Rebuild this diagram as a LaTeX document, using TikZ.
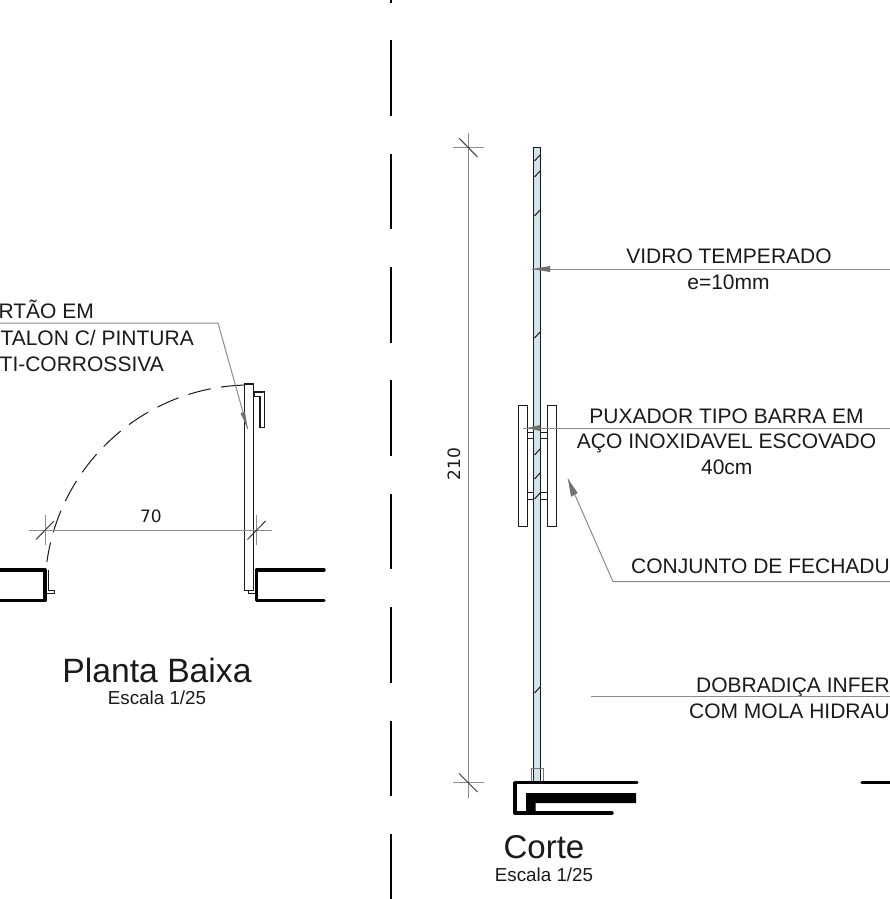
\documentclass[tikz,border=0pt]{standalone}
\usepackage{fontspec}
\setmainfont{Liberation Sans}
\newfontfamily\dimfont{DejaVu Sans}
\definecolor{glass}{HTML}{D3E3EA}
\definecolor{leader}{HTML}{8C8C8C}
\definecolor{ink}{HTML}{1A1A1A}
\tikzset{
 lbl/.style={inner sep=0pt,text=ink,font=\fontsize{21}{24}\selectfont},
 titlebig/.style={inner sep=0pt,text=ink,font=\fontsize{33}{36}\selectfont},
 titlesmall/.style={inner sep=0pt,text=ink,font=\fontsize{18.8}{22}\selectfont},
 dimtxt/.style={inner sep=0pt,text=ink,font=\dimfont\fontsize{17}{20}\selectfont},
 thinline/.style={line width=1pt,draw=ink},
 midline/.style={line width=1.4pt,draw=ink},
 wall/.style={line width=3.4pt,draw=black,line cap=round,line join=round},
 lead/.style={line width=1pt,draw=leader},
 tickmark/.style={line width=1pt,draw=ink!85},
 arrowfill/.style={fill=leader!80!black,draw=none}
}
\begin{document}
\begin{tikzpicture}[x=1pt,y=-1pt]
\useasboundingbox (0,0) rectangle (890,899);
\clip (0,0) rectangle (890,899);
\fill[white] (0,0) rectangle (890,899);
% axis
\draw[line width=1.3pt,draw=black] (391,0) -- (391,3) (391,40) -- (391,116) (391,154) -- (391,229) (391,267) -- (391,343) (391,380) -- (391,456) (391,494) -- (391,569) (391,607) -- (391,683) (391,721) -- (391,796) (391,834) -- (391,899);
% ---- plan: swing ----
\begin{scope}
\clip (0,370) rectangle (260,561);
\draw[line width=1pt,draw=ink,dash pattern=on 23pt off 10.5pt,dash phase=27.5pt] (250,385) .. controls (137,385) and (45,477) .. (45,590);
\end{scope}
% plan: walls
\draw[wall] (0,570) -- (45,570) -- (45,600.5) -- (0,600.5);
\draw[wall] (324,570) -- (256.5,570) -- (256.5,600.5) -- (324,600.5);
\draw[thinline] (48.7,570) -- (48.7,590) -- (54,590) -- (54,593) -- (47,593);
\draw[thinline] (248,591) -- (248,593) -- (255,593);
% plan: leaf
\draw[midline,fill=white] (244.5,384) rectangle (253.7,590.7);
\draw[thinline] (254,391) -- (254,396) -- (260,396);
\draw[midline] (254,392) -- (264.5,392);
\draw[line width=1.2pt,draw=ink,fill=white] (260,396) -- (260,427.7) -- (264.5,427.7) -- (264.5,392);
% plan: dimension
\coordinate (pdimL) at (29,530.3); \coordinate (pdimR) at (272,530.3);
\draw[lead] (pdimL) -- (pdimR);
\draw[lead] (45,515) -- (45,545);
\draw[lead] (256.7,515) -- (256.7,545);
\draw[tickmark] (36,539.5) -- (54,521);
\draw[tickmark] (247.5,539.5) -- (265.6,521);
\node[dimtxt] (d70) at (151,516) {70};
% plan: door leader
\node[lbl,anchor=east] (p1) at (94,309.5) {RTÃO EM};
\node[lbl,anchor=east] (p2) at (194,338) {TALON C/ PINTURA};
\node[lbl,anchor=east] (p3) at (164,364) {TI-CORROSSIVA};
\coordinate (pelbow) at (218,323);
\coordinate (ptip) at (247.7,429);
\draw[lead] (0,323) -- (pelbow) -- (ptip);
\fill[arrowfill] (ptip) -- (240.5,413) -- (245,412) -- cycle;
\node[titlebig,font=\fontsize{33.7}{36}\selectfont] (pt) at (157,670) {Planta Baixa};
\node[titlesmall] (ps) at (157,698) {Escala 1/25};
% ---- section: glass ----
\draw[midline,fill=glass] (533.7,147.3) rectangle (540.7,782);
\foreach \y in {155,171,210,332,449,473,493,687}
  \draw[thinline] (534.5,\y+6) -- (540,\y);
% section: handle
\draw[thinline,fill=white] (518.3,405) rectangle (527.3,526);
\draw[thinline,fill=white] (547.3,405) rectangle (556.3,526);
\draw[thinline,fill=white] (527.3,432) rectangle (533.7,438);
\draw[thinline,fill=white] (540.7,432) rectangle (547.3,438);
\draw[thinline] (527.3,492.7) rectangle (533.7,499);
\draw[thinline] (540.7,492.7) rectangle (547.3,499);
% section: base
\draw[line width=0.8pt,draw=ink!60] (531.7,782) -- (531.7,768) -- (543.5,768) -- (543.5,782);
\draw[wall] (637,782.7) -- (515,782.7) -- (515,813) -- (612,813);
\fill[black] (526,793) -- (636,793) -- (636,803) -- (535.6,803) -- (535.6,812) -- (526,812) -- cycle;
\draw[wall] (862,782.7) -- (890,782.7);
% section: dimension
\draw[lead] (468.3,133) -- (468.3,798);
\draw[lead] (453,147.6) -- (484,147.6);
\draw[lead] (453,782.7) -- (484,782.7);
\draw[tickmark] (459,138) -- (477.5,157);
\draw[tickmark] (459,773.5) -- (477.5,792);
\node[dimtxt,rotate=90] (d210) at (454,464) {210};
% section: leaders
\node[lbl] (v1) at (729,256) {VIDRO TEMPERADO};
\node[lbl] (v2) at (728.5,282.5) {e=10mm};
\coordinate (vtip) at (532,269);
\draw[lead] (vtip) -- (890,269);
\fill[arrowfill] (vtip) -- (550,266) -- (550,272) -- cycle;
\node[lbl] (h1) at (726.5,416.7) {PUXADOR TIPO BARRA EM};
\node[lbl] (h2) at (726.5,443.5) {AÇO INOXIDAVEL ESCOVADO};
\node[lbl] (h3) at (726.8,467) {40cm};
\coordinate (htip) at (523,428);
\draw[lead] (htip) -- (890,428);
\fill[arrowfill] (527,428) -- (540,425) -- (540,431) -- cycle;
\node[lbl,anchor=east] (c1) at (890,566) {CONJUNTO DE FECHADU};
\coordinate (ctip) at (568,479);
\coordinate (celbow) at (613,581.7);
\draw[lead] (890,581.7) -- (celbow) -- (ctip);
\fill[arrowfill] (ctip) -- (571,496.7) -- (577.7,493) -- cycle;
\node[lbl,anchor=east] (b1) at (890,687.5) {DOBRADIÇA INFER};
\node[lbl,anchor=east] (b2) at (890,711) {COM MOLA HIDRAU};
\coordinate (bstart) at (591,696.7);
\draw[lead] (bstart) -- (890,696.7);
\node[titlebig] (ct) at (544,847) {Corte};
\node[titlesmall] (cs) at (544,875) {Escala 1/25};
\end{tikzpicture}
\end{document}
